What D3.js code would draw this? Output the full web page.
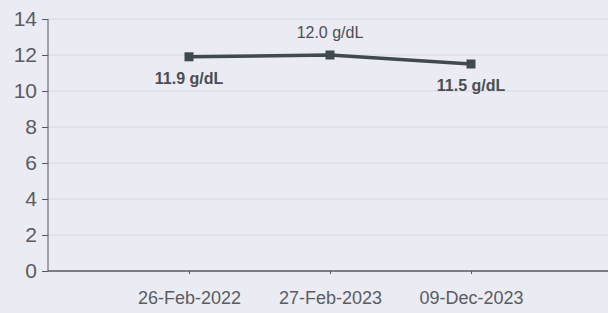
<!DOCTYPE html>
<html lang="en">
<head>
	<meta charset="utf-8">
	<title>Haemoglobin trend</title>
	<script src="https://d3js.org/d3.v7.min.js"></script>
	<style type="text/css">
		body {
			margin: 0;
			background: #eaebf3;
		}
		.axis text {
			font-family: "Liberation Sans", Arial, sans-serif;
			fill: #5a5c62;
		}
		.axis path,
		.axis line {
			stroke: #55595e;
		}
		.label {
			font-family: "Liberation Sans", Arial, sans-serif;
			font-size: 16px;
			fill: #4a4e54;
		}
	</style>
</head>
<body>
<script type="text/javascript">
// Data
var dates = ["26-Feb-2022", "27-Feb-2023", "09-Dec-2023"];
var values = [11.9, 12.0, 11.5];
var labels = ["11.9 g/dL", "12.0 g/dL", "11.5 g/dL"];
var yTicks = [0, 2, 4, 6, 8, 10, 12, 14];

var width = 608, height = 313;
var margin = {top: 19, right: -4, bottom: 42, left: 48};
var plot_w = width - margin.left - margin.right;
var plot_h = height - margin.top - margin.bottom;

var svg = d3.select("body")
	.append("svg")
	.attr("width", width)
	.attr("height", height);

var g = svg.append("g")
	.attr("transform", "translate(" + margin.left + "," + margin.top + ")");

var yScale = d3.scaleLinear()
	.domain([0, 14])
	.range([plot_h, 0]);

var xScale = d3.scalePoint()
	.domain(dates)
	.range([0, plot_w])
	.padding(1);

// gridlines
g.selectAll(".grid")
	.data(yTicks.filter(function(d) { return d > 0; }))
	.enter()
	.append("line")
	.attr("class", "grid")
	.attr("x1", 0)
	.attr("x2", plot_w)
	.attr("y1", function(d) { return yScale(d); })
	.attr("y2", function(d) { return yScale(d); })
	.style("stroke", "#d6d7df")
	.style("stroke-width", 1.2);

// y axis
var yAxis = d3.axisLeft(yScale)
	.tickValues(yTicks)
	.tickSize(6)
	.tickPadding(5);

g.append("g")
	.attr("class", "axis")
	.call(yAxis)
	.call(function(s) { s.select(".domain").attr("d", "M0,0V" + plot_h); })
	.selectAll("text")
	.style("font-size", "21px");

// x axis
var xAxis = d3.axisBottom(xScale)
	.tickSize(3)
	.tickPadding(17);

g.append("g")
	.attr("class", "axis")
	.attr("transform", "translate(0," + plot_h + ")")
	.call(xAxis)
	.call(function(s) {
		s.select(".domain").attr("d", "M0,0H" + plot_w).style("stroke-width", 1.5);
	})
	.selectAll("text")
	.style("font-size", "18px");

// line
var line = d3.line()
	.x(function(d, i) { return xScale(dates[i]); })
	.y(function(d) { return yScale(d); });

g.append("path")
	.datum(values)
	.attr("d", line)
	.style("fill", "none")
	.style("stroke", "#3f4a50")
	.style("stroke-width", 3.5);

g.selectAll(".pt")
	.data(values)
	.enter()
	.append("rect")
	.attr("class", "pt")
	.attr("x", function(d, i) { return xScale(dates[i]) - 4.5; })
	.attr("y", function(d) { return yScale(d) - 4.5; })
	.attr("width", 9)
	.attr("height", 9)
	.style("fill", "#3f4a50");

// value labels: first and last below (bold), middle above
g.selectAll(".label")
	.data(values)
	.enter()
	.append("text")
	.attr("class", "label")
	.attr("x", function(d, i) { return xScale(dates[i]); })
	.attr("y", function(d, i) { return yScale(d) + (i === 1 ? -17 : 27); })
	.attr("text-anchor", "middle")
	.style("font-weight", function(d, i) { return i === 1 ? "normal" : "bold"; })
	.text(function(d, i) { return labels[i]; });
</script>
</body>
</html>
